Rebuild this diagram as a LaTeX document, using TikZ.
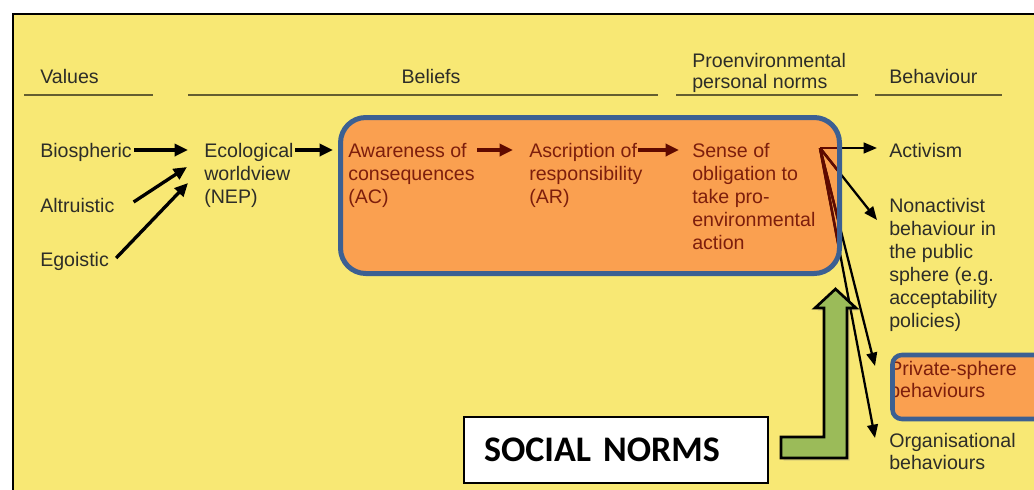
\documentclass[tikz,border=0pt]{standalone}
\usepackage{fontspec}
\setmainfont{Liberation Sans}
\newfontfamily\calibrifont{Carlito}
\usetikzlibrary{arrows.meta,calc,shadows}

\definecolor{panelyellow}{RGB}{248,232,116}
\definecolor{coreorange}{RGB}{250,160,80}
\definecolor{frameblue}{RGB}{60,96,146}
\definecolor{maroontext}{RGB}{125,30,12}
\definecolor{maroonline}{RGB}{95,10,0}
\definecolor{rulecolor}{RGB}{100,94,48}
\definecolor{normgreen}{RGB}{155,187,89}
\definecolor{inktext}{RGB}{45,45,40}

% stacked lines whose baseline is that of the first line
\newcommand{\linesof}[1]{\begin{tabular}[t]{@{}l@{}}#1\end{tabular}}

\begin{document}
\begin{tikzpicture}[x=0.75pt,y=-0.75pt,
  lbl/.style={anchor=base west, inner sep=0pt,
    font=\fontsize{14.7pt}{17.25pt}\selectfont, text=inktext},
  inlbl/.style={lbl, text=maroontext},
  hrule/.style={draw=rulecolor, line width=2pt},
  arr/.style={draw=black, line width=2.5pt, -{Triangle[length=10pt,width=9pt]}},
  fanarr/.style={draw=black, line width=1.7pt, -{Triangle[length=10pt,width=8pt]}},
  fanin/.style={draw=maroonline, line width=1.9pt},
  corner/.style={rounded corners=19pt}
]
\useasboundingbox (0,0) rectangle (1034,489);

% yellow panel with its black frame
\begin{scope}
  \clip (0,0) rectangle (1034,489);
  \draw[fill=panelyellow, line width=2pt] (13,14) rectangle (1060,520);
\end{scope}

% orange highlight areas
\coordinate (cbnw) at (340.5,117.5);
\coordinate (cbse) at (839.5,273.5);
\coordinate (pbnw) at (892.5,355);
\coordinate (pbse) at (1060,419);
\fill[coreorange, corner] (cbnw) rectangle (cbse);
\fill[coreorange, rounded corners=7pt] (pbnw) rectangle (pbse);

% column headings
\node[lbl] (hval) at (40,83) {Values};
\node[lbl, anchor=base] (hbel) at (431,83) {Beliefs};
\node[lbl, font=\fontsize{14.7pt}{15.9pt}\selectfont] (hpn) at (692,67) {\linesof{Proenvironmental\\personal norms}};
\node[lbl] (hbeh) at (889,83) {Behaviour};
\draw[hrule] (24,95) -- (153,95);
\draw[hrule] (188,95) -- (658,95);
\draw[hrule] (676,95) -- (858,95);
\draw[hrule] (875,95) -- (1002,95);

% model stages
\node[lbl] (bio) at (40,157) {Biospheric};
\node[lbl] (alt) at (40,212) {Altruistic};
\node[lbl] (ego) at (40,266) {Egoistic};
\node[lbl] (nep) at (204,157) {\linesof{Ecological\\worldview\\(NEP)}};
\node[inlbl] (ac) at (348,157) {\linesof{Awareness of\\consequences\\(AC)}};
\node[inlbl] (ar) at (529,157) {\linesof{Ascription of\\responsibility\\(AR)}};
\node[inlbl] (pn) at (692,157) {\linesof{Sense of\\obligation to\\take pro-\\environmental\\action}};
\node[lbl] (act) at (889,157) {Activism};
\node[lbl] (nonact) at (889,212) {\linesof{Nonactivist\\behaviour in\\the public\\sphere (e.g.\\acceptability\\policies)}};
\node[inlbl, font=\fontsize{14.7pt}{16.5pt}\selectfont] (priv) at (889,375) {\linesof{Private-sphere\\behaviours}};
\node[lbl, font=\fontsize{14.7pt}{16.5pt}\selectfont] (org) at (889,447) {\linesof{Organisational\\behaviours}};

% value orientations feed the worldview
\draw[arr] ($(bio.base east)+(2,-7)$) -- ($(nep.base west)+(-16,-7)$);
\draw[arr] ($(alt.base east)+(19,-10)$) -- ($(nep.base west)+(-17,10)$);
\draw[arr] ($(ego.base east)+(7,-8)$) -- ($(nep.base west)+(-16,26)$);
\draw[arr] ($(nep.base west)+(91,-7)$) -- ($(ac.base west)+(-15,-7)$);
\draw[arr, draw=maroonline] ($(ac.base west)+(129,-7)$) -- ($(ar.base west)+(-16,-7)$);
\draw[arr, draw=maroonline] ($(ar.base west)+(109,-7)$) -- ($(pn.base west)+(-13,-7)$);

% personal norm fans out to the behaviour types
\coordinate (fan) at ($(pn.base west)+(128,-9)$);
\coordinate (tact) at ($(act.base west)+(-12,-9)$);
\coordinate (tnon) at ($(nonact.base west)+(-12,8)$);
\coordinate (tpriv) at ($(priv.base west)+(-14,-9)$);
\coordinate (torg) at ($(org.base west)+(-14,-9)$);
\foreach \t in {tact,tnon,tpriv,torg}
  \draw[fanarr] (fan) -- (\t);
\begin{scope}
  \clip[corner] (cbnw) rectangle (cbse);
  \foreach \t in {tact,tnon,tpriv,torg}
    \draw[fanin] (fan) -- (\t);
\end{scope}

% highlight frames
\draw[draw=frameblue, line width=3.75pt, corner] (cbnw) rectangle (cbse);
\draw[draw=frameblue, line width=3.4pt, rounded corners=7pt] (pbnw) rectangle (pbse);

% social norms influence
\draw[fill=normgreen, line width=2pt, line join=miter,
      drop shadow={opacity=0.25, shadow xshift=2pt, shadow yshift=-2pt}]
  (781,437) -- (824,437) -- (824,308) -- (815,308) -- (835.5,289)
  -- (856,308) -- (847,308) -- (847,458) -- (781,458) -- cycle;
\node (sn) [draw=black, line width=1.5pt, fill=white, anchor=north west,
  minimum width=228pt, minimum height=49.5pt, inner xsep=15pt,
  text width=198pt, align=left,
  font=\calibrifont\bfseries\fontsize{27pt}{30pt}\selectfont] at (463,416) {SOCIAL NORMS};
\end{tikzpicture}
\end{document}
